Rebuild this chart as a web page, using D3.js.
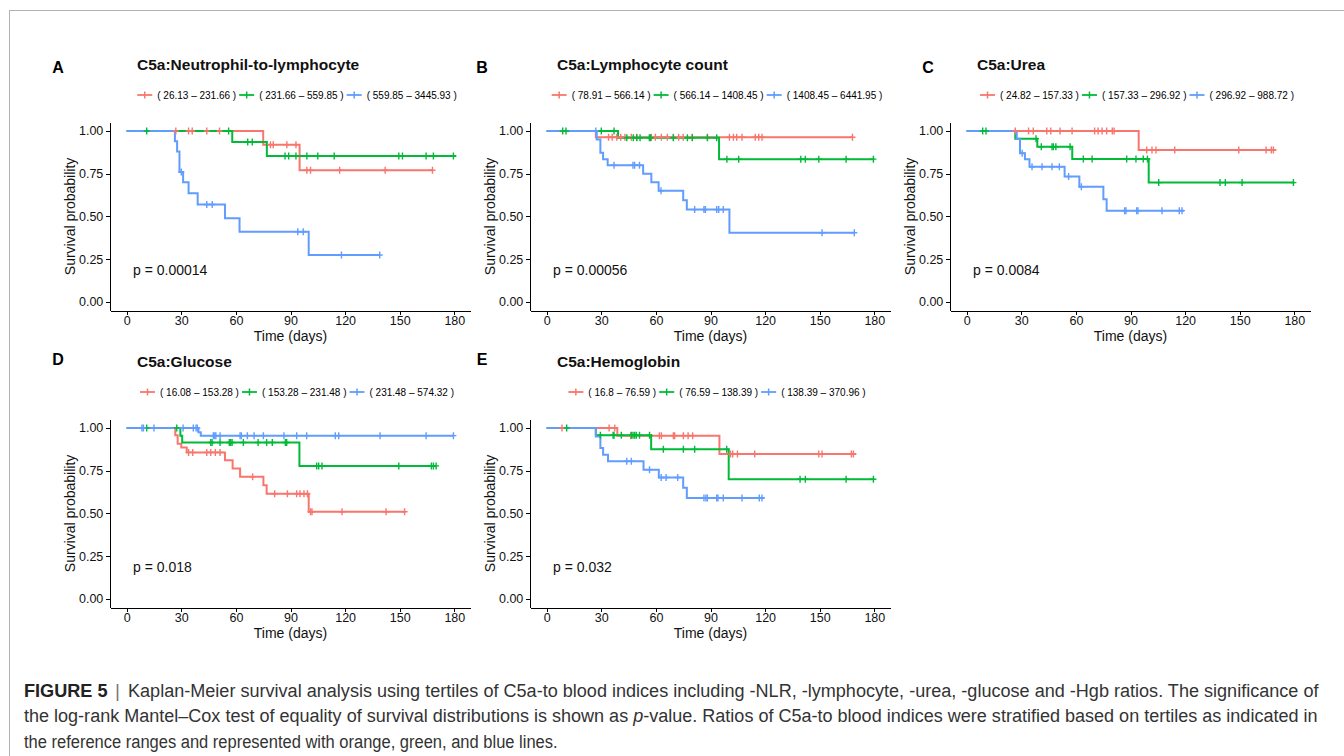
<!DOCTYPE html>
<meta charset="utf-8">
<style>
body { margin: 0; background: #fff; }
svg { display: block; font-family: "Liberation Sans", Arial, Helvetica, sans-serif; }
.axis path, .axis line { stroke: #000; stroke-width: 1; shape-rendering: crispEdges; }
.axis text { font-size: 12.5px; fill: #111; }
.km { fill: none; stroke-width: 2; }
.cens { fill: none; stroke-width: 1.4; }
</style>
<body>
<script src="https://cdn.jsdelivr.net/npm/d3@7"></script>
<script>

// ---- data ----
var groupColors = ["#F8766D", "#00BA38", "#619CFF"];
var xTicks = [0, 30, 60, 90, 120, 150, 180];
var yTicks = [0, 0.25, 0.5, 0.75, 1];

var panelLetters = ["A", "B", "C", "D", "E"];
var panelTitles = ["C5a:Neutrophil-to-lymphocyte", "C5a:Lymphocyte count", "C5a:Urea", "C5a:Glucose", "C5a:Hemoglobin"];
var pValues = ["p = 0.00014", "p = 0.00056", "p = 0.0084", "p = 0.018", "p = 0.032"];

var legendA = ["( 26.13 – 231.66 )", "( 231.66 – 559.85 )", "( 559.85 – 3445.93 )"];
var legendB = ["( 78.91 – 566.14 )", "( 566.14 – 1408.45 )", "( 1408.45 – 6441.95 )"];
var legendC = ["( 24.82 – 157.33 )", "( 157.33 – 296.92 )", "( 296.92 – 988.72 )"];
var legendD = ["( 16.08 – 153.28 )", "( 153.28 – 231.48 )", "( 231.48 – 574.32 )"];
var legendE = ["( 16.8 – 76.59 )", "( 76.59 – 138.39 )", "( 138.39 – 370.96 )"];

// survival steps [day, probability]; censor days
var aRed = [[0, 1], [75, 0.92], [95, 0.77], [168, 0.77]];
var aRedCens = [27, 34, 36, 44, 51, 79, 80.5, 88, 93, 99, 101, 117, 142, 168];
var aGreen = [[0, 1], [58, 0.936], [77, 0.854], [181, 0.854]];
var aGreenCens = [11, 56, 66.5, 69, 87, 89, 93, 99, 105, 114, 149.5, 151.5, 164.5, 168.5, 179.5];
var aBlue = [[0, 1], [26.5, 0.94], [27.7, 0.88], [29, 0.76], [31, 0.70], [34, 0.635], [39, 0.57], [54, 0.49], [62, 0.41], [100, 0.275], [139, 0.275]];
var aBlueCens = [30, 44, 47, 94, 97, 118, 139];

var bRed = [[0, 1], [27, 0.963], [168, 0.963]];
var bRedCens = [34, 36, 38.5, 40.7, 43, 46.5, 49.5, 57.5, 59.7, 63, 66.3, 69.6, 72.5, 75, 80, 88.3, 100.4, 102.6, 104.4, 107.3, 114.6, 116.5, 118.3, 168];
var bGreen = [[0, 1], [39.2, 0.96], [94.7, 0.835], [180, 0.835]];
var bGreenCens = [8.8, 10.6, 30, 37, 44, 47.6, 49.5, 51.3, 56.4, 57.1, 69.6, 77.3, 80, 88.3, 93.4, 99, 105.5, 139.6, 142.1, 149.5, 164.5, 179.5];
var bBlue = [[0, 1], [27.5, 0.95], [29.5, 0.873], [31, 0.834], [33.5, 0.80], [53, 0.75], [57.5, 0.70], [61.5, 0.65], [75, 0.595], [77, 0.54], [100.4, 0.405], [169, 0.405]];
var bBlueCens = [27, 37, 47.4, 48.3, 51, 62.8, 81.3, 86.4, 87.2, 93.4, 94.5, 97, 151.3, 169];

var cRed = [[0, 1], [94.5, 0.889], [170, 0.889]];
var cRedCens = [26.7, 34, 36.6, 44, 46.2, 51.3, 57.9, 70.3, 72.2, 74.4, 76.9, 80, 81, 98.9, 101.8, 104, 114.3, 149.5, 164.5, 167.4, 168.5];
var cGreen = [[0, 1], [26.7, 0.955], [38.8, 0.908], [58, 0.836], [100, 0.698], [180, 0.698]];
var cGreenCens = [8.8, 10.6, 38.1, 41, 46.9, 47.6, 49, 56.8, 64.1, 68.9, 87.9, 93, 97, 99.3, 105.5, 139.2, 142.1, 151.3, 179.5];
var cBlue = [[0, 1], [27.5, 0.955], [29.3, 0.87], [32, 0.834], [34.5, 0.791], [53.8, 0.733], [61.9, 0.674], [75.1, 0.60], [76.9, 0.534], [119.4, 0.534]];
var cBlueCens = [30.5, 35.9, 41.4, 46.9, 50.9, 56, 63, 86.8, 87.5, 93.4, 94.1, 107.3, 116.8, 118.3];

var dRed = [[0, 1], [26.7, 0.957], [28, 0.907], [30, 0.885], [33, 0.857], [54, 0.811], [58.2, 0.763], [62.3, 0.714], [75.1, 0.665], [76.9, 0.615], [100, 0.51], [152.7, 0.51]];
var dRedCens = [34, 36.3, 44, 46.2, 48.7, 51.3, 69.2, 81.3, 88.3, 93.4, 95.2, 97.4, 99.3, 101, 101.8, 118.3, 142.5, 152.7];
var dGreen = [[0, 1], [29.5, 0.955], [30.5, 0.915], [94.9, 0.778], [170, 0.778]];
var dGreenCens = [11, 27.5, 46.2, 46.9, 51.3, 56.4, 57.1, 57.9, 64.1, 72.2, 76.9, 80, 87.2, 87.9, 104.4, 105.5, 107.3, 149.5, 167.4, 168.5, 170];
var dBlue = [[0, 1], [39.4, 0.975], [40.7, 0.955], [180, 0.955]];
var dBlueCens = [8.4, 9.2, 15, 31, 36.6, 38.1, 38.8, 47.6, 48.4, 49, 51.3, 62.3, 63, 66.3, 70, 75.1, 86.4, 93.4, 98.9, 114.6, 116.5, 139.2, 164.5, 179.5];

var eRed = [[0, 1], [38.8, 0.955], [94.9, 0.848], [170, 0.848]];
var eRedCens = [8.4, 34.3, 37.4, 46.2, 61.9, 63, 69.6, 70.3, 75.1, 77.7, 80.2, 101, 102.2, 104.8, 114.3, 149.5, 151.3, 167.4, 168.5];
var eGreen = [[0, 1], [27, 0.957], [57.4, 0.875], [100, 0.70], [180, 0.70]];
var eGreenCens = [11, 29.5, 36.5, 37, 41, 46.5, 47.4, 48.3, 49.2, 51, 56.5, 64.1, 75.1, 81.3, 98.9, 139.2, 142.1, 164.5, 179.5];
var eBlue = [[0, 1], [27, 0.95], [29.5, 0.883], [31, 0.844], [33.7, 0.805], [53.2, 0.756], [61.6, 0.71], [75, 0.65], [77, 0.59], [119.4, 0.59]];
var eBlueCens = [44, 46.5, 56.5, 62.9, 65.6, 72, 86.4, 87.5, 88.3, 93.4, 94.1, 97, 107.3, 116.8, 118.3];

var captionBold = "FIGURE 5";
var captionLine1 = "Kaplan-Meier survival analysis using tertiles of C5a-to blood indices including -NLR, -lymphocyte, -urea, -glucose and -Hgb ratios. The significance of";
var captionLine2a = "the log-rank Mantel–Cox test of equality of survival distributions is shown as ";
var captionLine2b = "-value. Ratios of C5a-to blood indices were stratified based on tertiles as indicated in";
var captionLine3 = "the reference ranges and represented with orange, green, and blue lines.";

// ---- table for the loop ----
var panels = [
  { legend: legendA, curves: [aRed, aGreen, aBlue], cens: [aRedCens, aGreenCens, aBlueCens] },
  { legend: legendB, curves: [bRed, bGreen, bBlue], cens: [bRedCens, bGreenCens, bBlueCens] },
  { legend: legendC, curves: [cRed, cGreen, cBlue], cens: [cRedCens, cGreenCens, cBlueCens] },
  { legend: legendD, curves: [dRed, dGreen, dBlue], cens: [dRedCens, dGreenCens, dBlueCens] },
  { legend: legendE, curves: [eRed, eGreen, eBlue], cens: [eRedCens, eGreenCens, eBlueCens] }
];

var width = 1344, height = 756;
var colW = 420, rowH = 297;
var letterX = [58, 482, 928, 58, 482];

var svg = d3.select("body").append("svg")
    .attr("width", width)
    .attr("height", height);

// figure frame
svg.append("rect")
    .attr("x", 9.5).attr("y", 10.5)
    .attr("width", 1400).attr("height", 800)
    .attr("fill", "none")
    .attr("stroke", "#b3b3b3");

var x = d3.scaleLinear().domain([-9, 189]).range([110.3, 470.7]);
var y = d3.scaleLinear().domain([-0.05, 1.05]).range([310.5, 122.4]);

var line = d3.line()
    .curve(d3.curveStepAfter)
    .x(function(d) { return x(d[0]); })
    .y(function(d) { return y(d[1]); });

function survAt(curve, t) {
  var s = curve[0][1];
  curve.forEach(function(p) { if (p[0] <= t) s = p[1]; });
  return s;
}

panels.forEach(function(p, i) {
  var col = i % 3, row = Math.floor(i / 3);
  var g = svg.append("g")
      .attr("transform", "translate(" + col * colW + "," + row * rowH + ")");

  // letter + title
  svg.append("text")
      .attr("x", letterX[i])
      .attr("y", 67 + row * 292)
      .attr("dy", "0.35em")
      .attr("text-anchor", "middle")
      .attr("font-size", 16)
      .attr("font-weight", "bold")
      .text(panelLetters[i]);

  g.append("text")
      .attr("x", 137)
      .attr("y", 65)
      .attr("dy", "0.35em")
      .attr("font-size", 15.5)
      .attr("font-weight", "bold")
      .attr("fill", "#111")
      .text(panelTitles[i]);

  // legend
  var lg = g.append("g").attr("transform", "translate(0,95)");
  var offset = 0;
  p.legend.forEach(function(lab, k) {
    var item = lg.append("g").attr("transform", "translate(" + offset + ",0)");
    item.append("line")
        .attr("x1", 0).attr("x2", 15)
        .attr("stroke", groupColors[k]).attr("stroke-width", 1.8);
    item.append("path")
        .attr("d", "M7.5,-3.5V3.5")
        .attr("stroke", groupColors[k]).attr("stroke-width", 1.5);
    var t = item.append("text")
        .attr("x", 20)
        .attr("dy", "0.35em")
        .attr("font-size", 10)
        .attr("fill", "#000")
        .text(lab);
    offset += 20 + t.node().getComputedTextLength() + 3;
  });
  offset -= 3;
  lg.attr("transform", "translate(" + (297 - offset / 2) + ",95)");

  // axes
  g.append("g")
      .attr("class", "axis")
      .attr("transform", "translate(0," + y.range()[0] + ")")
      .call(d3.axisBottom(x).tickValues(xTicks).tickSize(4).tickSizeOuter(0).tickPadding(2));

  g.append("g")
      .attr("class", "axis")
      .attr("transform", "translate(" + x.range()[0] + ",0)")
      .call(d3.axisLeft(y).tickValues(yTicks).tickSize(4).tickSizeOuter(0).tickPadding(3)
        .tickFormat(d3.format(".2f")));

  g.append("text")
      .attr("x", (x.range()[0] + x.range()[1]) / 2)
      .attr("y", 336)
      .attr("dy", "0.35em")
      .attr("text-anchor", "middle")
      .attr("font-size", 14)
      .attr("fill", "#111")
      .text("Time (days)");

  g.append("text")
      .attr("transform", "translate(70," + (y.range()[0] + y.range()[1]) / 2 + ") rotate(-90)")
      .attr("dy", "0.35em")
      .attr("text-anchor", "middle")
      .attr("font-size", 14)
      .attr("fill", "#111")
      .text("Survival probability");

  // curves, then censor marks
  p.curves.forEach(function(c, k) {
    g.append("path")
        .datum(c)
        .attr("class", "km")
        .attr("stroke", groupColors[k])
        .attr("d", line);
  });
  p.cens.forEach(function(cs, k) {
    g.selectAll(null)
        .data(cs)
        .enter().append("path")
        .attr("class", "cens")
        .attr("stroke", groupColors[k])
        .attr("transform", function(t) {
          return "translate(" + x(t) + "," + y(survAt(p.curves[k], t)) + ")";
        })
        .attr("d", "M-3,0H3M0,-3.5V3.5");
  });

  g.append("text")
      .attr("x", 133)
      .attr("y", 270)
      .attr("dy", "0.35em")
      .attr("font-size", 14)
      .attr("fill", "#111")
      .text(pValues[i]);
});

// caption, squeezed to the widths of the condensed face in the figure
function fitText(sel, x0, y0, w) {
  var bw = sel.node().getBBox().width;
  sel.attr("transform", "translate(" + x0 + "," + y0 + ") scale(" + (w / bw) + ",1)");
}

var cap = svg.append("g")
    .attr("font-size", 19)
    .attr("fill", "#333");

fitText(cap.append("text").attr("font-weight", "bold").attr("fill", "#222").text(captionBold), 24, 697, 84);
cap.append("text").attr("x", 115).attr("y", 697).attr("fill", "#777").text("|");
fitText(cap.append("text").text(captionLine1), 128, 697, 1192);

var l2 = cap.append("text");
l2.append("tspan").text(captionLine2a);
l2.append("tspan").attr("font-style", "italic").text("p");
l2.append("tspan").text(captionLine2b);
fitText(l2, 24, 722, 1294);

fitText(cap.append("text").text(captionLine3), 24, 747.5, 534);

</script>
</body>
